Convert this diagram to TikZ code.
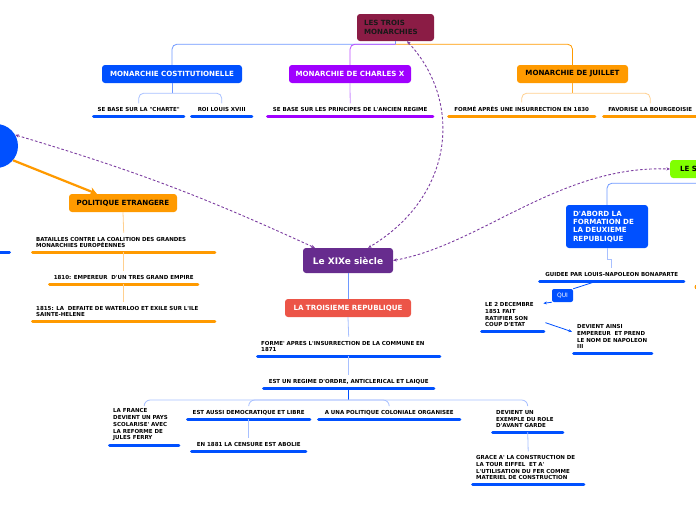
\documentclass[tikz,border=0pt]{standalone}
\usepackage{fontspec}
\setmainfont{DejaVu Sans}[Ligatures=TeXOff]
\usetikzlibrary{arrows.meta}

\definecolor{mblue}{HTML}{0050FF}
\definecolor{lblue}{HTML}{A8C0FF}
\definecolor{cblue}{HTML}{6E98FF}
\definecolor{mpurple}{HTML}{A000FF}
\definecolor{lpurple}{HTML}{CC8FFF}
\definecolor{morange}{HTML}{FF9A00}
\definecolor{lorange}{HTML}{FFD08F}
\definecolor{crimson}{HTML}{8B1C45}
\definecolor{xixpurple}{HTML}{672C8E}
\definecolor{coral}{HTML}{EC5548}
\definecolor{lime}{HTML}{80FF00}
\definecolor{dashc}{HTML}{7B3CA0}

\begin{document}
\begin{tikzpicture}[x=1pt,y=-1pt,
  box/.style={rounded corners=3pt, inner sep=0pt, minimum height=18pt,
    font=\fontsize{7.1}{9}\selectfont\bfseries},
  lab/.style={inner xsep=5pt, inner ysep=4pt, anchor=south west,
    font=\fontsize{5.5}{6.7}\selectfont\bfseries},
  lc/.style={lab, minimum width=#1},
  ll/.style={lab, text width=#1, align=left},
  ul/.style={draw=#1, line width=3pt, line cap=round, shorten <=1.5pt, shorten >=1.5pt},
  conn/.style={draw=#1, line width=0.8pt, rounded corners=5pt},
  dashl/.style={draw=dashc, line width=0.9pt, dash pattern=on 2.6pt off 2pt,
    {Stealth[length=3.6pt,width=3.2pt]}-{Stealth[length=3.6pt,width=3.2pt]}}
]
\useasboundingbox (0,0) rectangle (696,520);
\clip (0,0) rectangle (696,520);

% ---------- main nodes ----------
\node[box, fill=crimson, text=black!90, text width=63pt, inner xsep=7pt, align=left,
  minimum height=27pt] (root) at (395.5,27.5) {LES TROIS\\MONARCHIES};
\node[box, fill=mblue, text=white, minimum width=140pt] (cm) at (172,74) {MONARCHIE COSTITUTIONELLE};
\node[box, fill=mpurple, text=white, minimum width=122pt] (chx) at (350,74) {MONARCHIE DE CHARLES X};
\node[box, fill=morange, text=black, minimum width=111pt] (mj) at (572.5,74) {MONARCHIE DE JUILLET};
\node[circle, fill=mblue, minimum size=44pt, inner sep=0pt] (circ) at (-4,146) {};
\node[box, fill=morange, text=black, minimum width=108pt] (pe) at (123,203) {POLITIQUE ETRANGERE};
\node[box, fill=xixpurple, text=white, minimum width=90pt, minimum height=25pt,
  font=\fontsize{9}{11}\selectfont\bfseries] (xix) at (348,260.5) {Le XIXe siècle};
\node[box, fill=coral, text=white, minimum width=126pt] (tr) at (348,308) {LA TROISIEME REPUBLIQUE};
\node[box, fill=lime, text=black, anchor=west, text width=110pt, inner xsep=10pt, align=left]
  (les) at (670,169) {LE S};
\node[box, fill=mblue, text=white, text width=68pt, inner xsep=7pt, align=left, minimum height=43pt,
  font=\fontsize{7.1}{8.4}\selectfont\bfseries] (dab) at (607,226.5)
  {D'ABORD LA\\FORMATION DE\\LA DEUXIEME\\REPUBLIQUE};
\node[rounded corners=2pt, fill=mblue, text=white, inner sep=0pt, minimum width=21pt, minimum height=13pt,
  font=\fontsize{6}{7}\selectfont] (qui) at (562.5,295.5) {QUI};

% ---------- labels ----------
\node[lc=93pt] (cs1) at (92,116) {SE BASE SUR LA "CHARTE"};
\node[lc=63pt] (cs2) at (190,116) {ROI LOUIS XVIII};
\node[lc=168pt] (ch1) at (266,116) {SE BASE SUR LES PRINCIPES DE L'ANCIEN REGIME};
\node[lc=149pt] (j1) at (447,116) {FORMÉ APRÈS UNE INSURRECTION EN 1830};
\node[lc=96pt] (j2) at (602,116) {FAVORISE LA BOURGEOISIE};
\node[ll=175pt] (pe1) at (31,252) {\mbox{BATAILLES CONTRE LA COALITION DES GRANDES}\\\mbox{MONARCHIES EUROPÉENNES}};
\node[lc=151pt] (pe2) at (48,284) {1810: EMPEREUR\ \ D'UN TRES GRAND EMPIRE};
\node[ll=175pt] (pe3) at (31,321) {\mbox{1815: LA\ \ DEFAITE DE WATERLOO ET EXILE SUR L'ILE}\\\mbox{SAINTE-HELENE}};
\node[ll=175pt] (r1) at (256,356) {\mbox{FORME' APRES L'INSURRECTION DE LA COMMUNE EN}\\\mbox{1871}};
\node[lc=173pt] (r2) at (262,388) {EST UN REGIME D'ORDRE, ANTICLERICAL ET LAIQUE};
\node[ll=62pt] (f1) at (108,445) {\mbox{LA FRANCE}\\\mbox{DEVIENT UN PAYS}\\\mbox{SCOLARISE' AVEC}\\\mbox{LA REFORME DE}\\\mbox{JULES FERRY}};
\node[lc=125pt] (f2) at (186,419) {EST AUSSI DEMOCRATIQUE ET LIBRE};
\node[lc=117pt] (f3) at (190,451) {EN 1881 LA CENSURE EST ABOLIE};
\node[lc=144pt] (f4) at (317,419) {A UNA POLITIQUE COLONIALE ORGANISEE};
\node[ll=63pt] (f5) at (491,432) {\mbox{DEVIENT UN}\\\mbox{EXEMPLE DU ROLE}\\\mbox{D'AVANT GARDE}};
\node[ll=104pt] (f6) at (471,484) {\mbox{GRACE A' LA CONSTRUCTION DE}\\\mbox{LA TOUR EIFFEL\ \ ET A'}\\\mbox{L'UTILISATION DU FER COMME}\\\mbox{MATERIEL DE CONSTRUCTION}};
\node[lc=147pt] (g1) at (538,281) {GUIDEE PAR LOUIS-NAPOLEON BONAPARTE};
\node[ll=55pt] (g2) at (480,331) {\mbox{LE 2 DECEMBRE}\\\mbox{1851 FAIT}\\\mbox{RATIFIER SON}\\\mbox{COUP D'ETAT}};
\node[ll=71pt] (g3) at (572,353) {\mbox{DEVIENT AINSI}\\\mbox{EMPEREUR\ \ ET PREND}\\\mbox{LE NOM DE NAPOLEON}\\\mbox{III}};

% ---------- underlines ----------
\foreach \n in {cs1,cs2,r1,r2,f1,f2,f3,f4,f5,f6,g1,g2,g3}
  \draw[ul=mblue] (\n.south west) -- (\n.south east);
\draw[ul=mpurple] (ch1.south west) -- (ch1.south east);
\foreach \n in {j1,j2,pe1,pe2,pe3}
  \draw[ul=morange] (\n.south west) -- (\n.south east);
\coordinate (st1) at (-6,252);
\coordinate (st2) at (11,252);
\draw[ul=mblue] (st1) -- (st2);

% ---------- tree connectors ----------
\coordinate (rj) at ([yshift=-3pt]root.south);
\draw[conn=cblue] (root.south) -- (rj);
\draw[conn=cblue] (rj) -| (cm.north);
\draw[conn=mpurple!70] (rj) -| (chx.north);
\draw[conn=morange] (rj) -| (mj.north);

\coordinate (cmj) at ([yshift=-10pt]cm.south);
\draw[conn=cblue] (cm.south) -- (cmj);
\draw[conn=lblue] (cmj) -| (cs1.north);
\draw[conn=lblue] (cmj) -| (cs2.north);
\draw[conn=lpurple] (chx.south) -- (ch1.north);
\coordinate (mjj) at ([yshift=-10pt]mj.south);
\draw[conn=morange!80] (mj.south) -- (mjj);
\draw[conn=lorange] (mjj) -| (j1.north);
\draw[conn=lorange] (mjj) -| (j2.north);

\draw[conn=lorange] (pe.south) -- (pe1.north);
\draw[conn=lorange] (pe1.south) -- (pe2.north);
\draw[conn=lorange] (pe2.south) -- (pe3.north);

\draw[conn=cblue] (xix.south) -- (tr.north);
\draw[conn=lblue] (tr.south) -- (r1.north);
\draw[conn=lblue] (r1.south) -- (r2.north);
\coordinate (rj2) at ([yshift=-12pt]r2.south);
\draw[conn=mblue] (r2.south) -- (rj2);
\draw[conn=lblue, rounded corners=6pt] (rj2) -| (f1.north);
\draw[conn=lblue, rounded corners=6pt] (rj2) -| (f2.north);
\draw[conn=lblue, rounded corners=6pt] (rj2) -| (f4.north);
\draw[conn=lblue, rounded corners=6pt] (rj2) -| (f5.north);
\draw[conn=lblue] (f2.south) -- (f3.north);
\draw[conn=lblue] (f5.south) -- (f6.north);

\draw[conn=cblue] (les.south) -- ([yshift=-5pt]les.south) -| (dab.north);
\draw[draw=lblue, line width=0.8pt] (dab.south) -- ([yshift=-11pt]dab.south) -| (g1.north);

\draw[mblue, line width=0.8pt] ([xshift=-14.5pt]g1.south) -- (qui.north east);
\draw[mblue, line width=0.8pt, -{Stealth[length=3.5pt,width=3pt]}] (qui.south west) -- ([xshift=-2pt,yshift=-5pt]g2.north east);
\draw[mblue, line width=0.8pt, -{Stealth[length=3.5pt,width=3pt]}] ([yshift=-8pt]g2.east) -- ([yshift=5pt]g3.west);

% ---------- orange arrow ----------
\draw[morange, line width=2.2pt, -{Stealth[length=7pt,width=8pt]}] (circ.-40) -- ([xshift=28pt]pe.north west);

% ---------- dashed relations ----------
\draw[dashl] (circ.30) to[bend left=4] ([xshift=12pt]xix.north west);
\draw[dashl] ([xshift=11.5pt]root.south) .. controls (462,100) and (456,195) .. ([xshift=-25pt]xix.north east);
\draw[dashl] (xix.east) .. controls (480,245) and (560,165) .. (les.west);

% ---------- partial dot ----------
\coordinate (odot) at (697,287);
\fill[morange] (odot) circle (2.5pt);
\end{tikzpicture}
\end{document}
